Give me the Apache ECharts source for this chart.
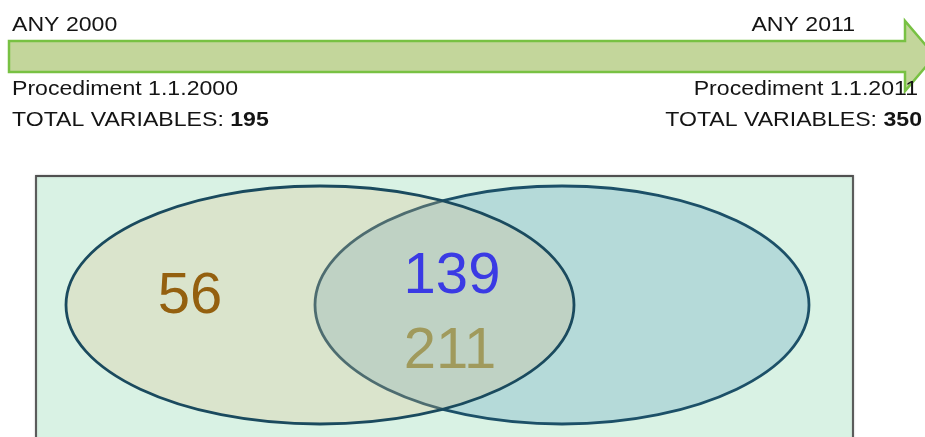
<!DOCTYPE html>
<html><head><meta charset="utf-8">
<script src="https://cdn.jsdelivr.net/npm/echarts@6/dist/echarts.min.js"></script>
<style>html,body{margin:0;padding:0;background:#fff}#c{width:925px;height:437px}</style>
</head><body><div id="c"></div>
<script>
// ---- data ----
const yearLabels = ['ANY 2000', 'ANY 2011'];
const procedureLabels = ['Procediment 1.1.2000', 'Procediment 1.1.2011'];
const totalPrefix = 'TOTAL VARIABLES: ';
const totals = [195, 350];
const regionNames = ['only 2000', 'common', 'new 2011'];
const regionValues = [56, 139, 211];

// ---- layout (diagram units = pixels of a 925x437 canvas) ----
const FONT = 'Liberation Sans, Arial, sans-serif';
const TEXT_COLOR = '#141414';
const layout = {
  sets: [ // drawn in this order: 2011 set below, 2000 set on top
    { set: 1, cx: 562, cy: 305, rx: 247, ry: 119, fill: '#b5dad9', stroke: '#1c5068' },
    { set: 0, cx: 320, cy: 305, rx: 254, ry: 119, fill: 'rgba(221,188,136,0.26)', stroke: '#1a4a5e' }
  ],
  regions: [
    { x: 190, y: 297, color: '#94600f' },
    { x: 452, y: 277, color: '#3a3ae4' },
    { x: 450, y: 352, color: '#a09a5c' }
  ],
  textScaleX: 1.1
};

const chart = echarts.init(document.getElementById('c'), null, { renderer: 'canvas' });

function headerText(str, x, y, align, rich) {
  const el = {
    type: 'text', x: x, y: y, scaleX: layout.textScaleX, z: 10,
    style: { text: str, x: 0, y: 0, align: align, verticalAlign: 'middle',
             font: '21px ' + FONT, fill: TEXT_COLOR }
  };
  if (rich) el.style.rich = rich;
  return el;
}
const totRich = {
  n: { fontSize: 21, fontFamily: FONT, color: TEXT_COLOR },
  b: { fontSize: 21, fontFamily: FONT, fontWeight: 'bold', color: TEXT_COLOR }
};

const option = {
  backgroundColor: '#ffffff',
  animation: false,
  grid: { left: 0, right: 0, top: 0, bottom: 0 },
  xAxis: { type: 'value', min: 0, max: 925, show: false },
  yAxis: { type: 'value', min: 0, max: 437, inverse: true, show: false },
  graphic: [
    { type: 'rect', z: -5, shape: { x: 36, y: 176, width: 817, height: 280 },
      style: { fill: '#d9f2e4', stroke: '#505050', lineWidth: 1.8,
               shadowColor: 'rgba(0,0,0,0.25)', shadowBlur: 2 } },
    { type: 'polygon', z: 1,
      shape: { points: [[9, 41], [905, 41], [905, 21], [935, 56], [905, 91], [905, 72], [9, 72]] },
      style: { fill: '#c3d69b', stroke: '#78c143', lineWidth: 2.5 } },
    headerText(yearLabels[0], 12, 25, 'left'),
    headerText(yearLabels[1], 855, 25, 'right'),
    headerText(procedureLabels[0], 12, 89, 'left'),
    headerText(procedureLabels[1], 918, 89, 'right'),
    headerText('{n|' + totalPrefix + '}{b|' + totals[0] + '}', 12, 120, 'left', totRich),
    headerText('{n|' + totalPrefix + '}{b|' + totals[1] + '}', 922, 120, 'right', totRich)
  ],
  series: [
    {
      type: 'custom', name: 'sets', silent: true, z: 2,
      data: layout.sets.map(s => [s.set, totals[s.set]]),
      renderItem: function (params, api) {
        const s = layout.sets[params.dataIndex];
        const c = api.coord([s.cx, s.cy]);
        const r = api.size([s.rx, s.ry]);
        return { type: 'ellipse', shape: { cx: c[0], cy: c[1], rx: r[0], ry: r[1] },
                 style: { fill: s.fill, stroke: s.stroke, lineWidth: 2.8 } };
      }
    },
    {
      type: 'custom', name: 'regions', silent: true, z: 3,
      data: regionValues.map((v, i) => [i, v]),
      renderItem: function (params, api) {
        const i = params.dataIndex;
        const p = layout.regions[i];
        const c = api.coord([p.x, p.y]);
        return { type: 'text', x: c[0], y: c[1],
                 style: { text: String(api.value(1)), align: 'center', verticalAlign: 'middle',
                          font: '58px ' + FONT, fill: p.color } };
      }
    }
  ]
};
chart.setOption(option);
</script>
</body></html>
